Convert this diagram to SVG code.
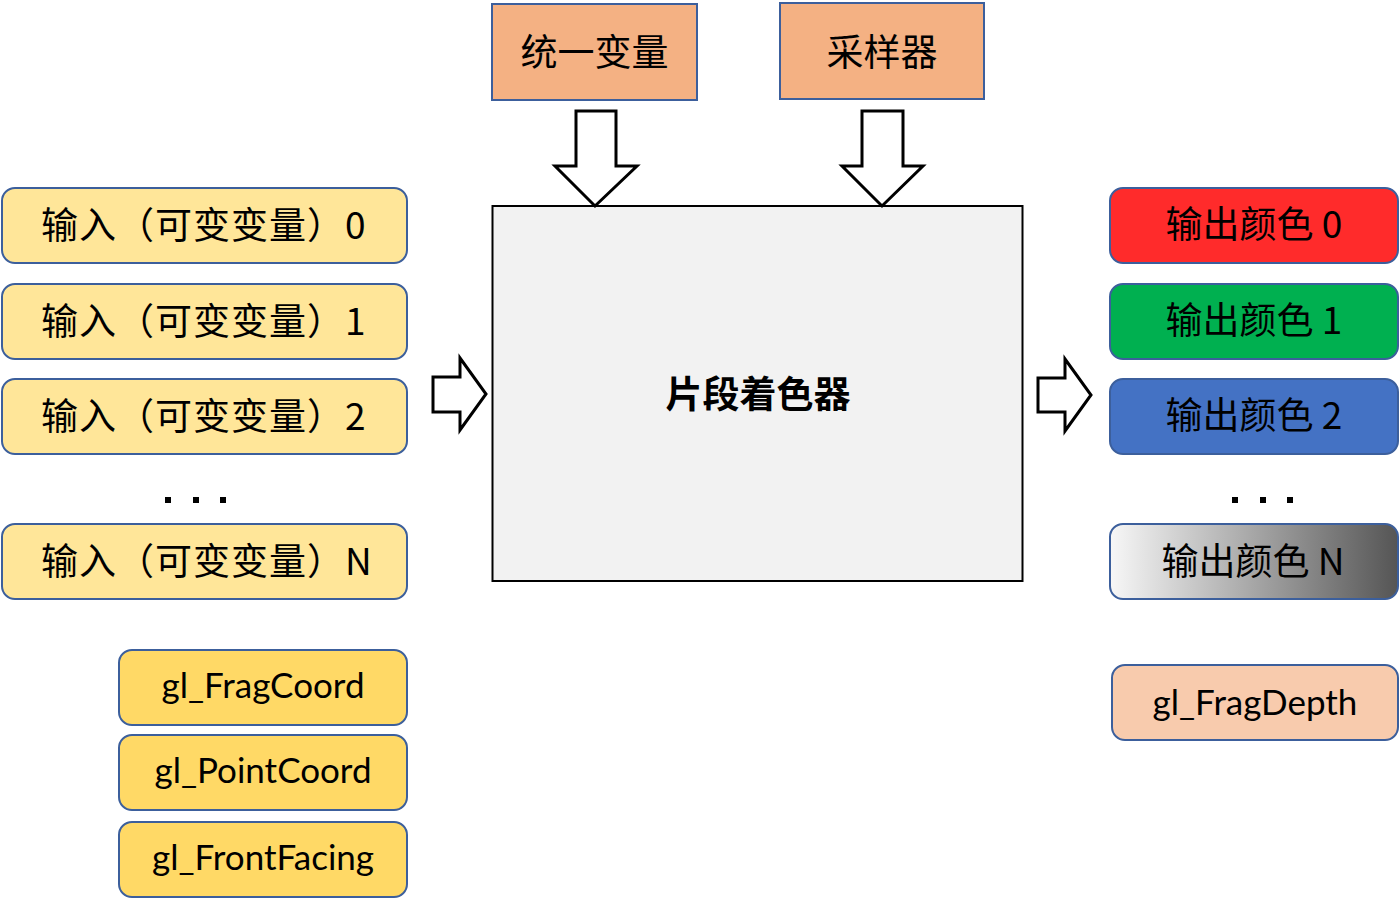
<svg xmlns="http://www.w3.org/2000/svg" width="1400" height="904" viewBox="0 0 1400 904">
<defs>
<linearGradient id="gradN" x1="0" y1="0" x2="1" y2="0">
<stop offset="0" stop-color="#F7F7F7"/>
<stop offset="1" stop-color="#555555"/>
</linearGradient>
<style>
.node{stroke:#3C5F9C;stroke-width:2}
.cjk{font-family:"Noto Sans CJK SC","Noto Sans",sans-serif;font-size:37px;fill:#000}
.lat{font-family:Lato,"Noto Sans",sans-serif;font-size:35px;fill:#000;text-anchor:middle}
.in{fill:#FFE699}
.gl{fill:#FFD966}
.arrow{fill:#fff;stroke:#000;stroke-width:3;stroke-linejoin:miter}
.dot{fill:#000}
</style>
</defs>
<rect width="1400" height="904" fill="#fff"/>

<g id="uniform">
<rect x="492" y="4" width="205" height="96" fill="#F4B183" class="node"/>
<text x="594.5" y="66" class="cjk" text-anchor="middle">统一变量</text>
</g>
<g id="sampler">
<rect x="780" y="3" width="204" height="96" fill="#F4B183" class="node"/>
<text x="882" y="66" class="cjk" text-anchor="middle">采样器</text>
</g>

<g id="shader">
<rect x="492.5" y="206" width="530" height="375" fill="#F2F2F2" stroke="#000" stroke-width="2"/>
<text x="758" y="408" class="cjk" text-anchor="middle" font-weight="bold">片段着色器</text>
</g>

<g id="input0">
<rect x="2" y="188" width="405" height="75" rx="13" class="node in"/>
<text x="41" y="239" class="cjk" letter-spacing="1">输入（可变变量）0</text>
</g>
<g id="input1">
<rect x="2" y="284" width="405" height="75" rx="13" class="node in"/>
<text x="41" y="335" class="cjk" letter-spacing="1">输入（可变变量）1</text>
</g>
<g id="input2">
<rect x="2" y="379" width="405" height="75" rx="13" class="node in"/>
<text x="41" y="430" class="cjk" letter-spacing="1">输入（可变变量）2</text>
</g>
<g id="inputDots">
<rect x="165" y="497" width="6" height="6" class="dot"/>
<rect x="193" y="497" width="6" height="6" class="dot"/>
<rect x="220" y="497" width="6" height="6" class="dot"/>
</g>
<g id="inputN">
<rect x="2" y="524" width="405" height="75" rx="13" class="node in"/>
<text x="41" y="575" class="cjk" letter-spacing="1">输入（可变变量）N</text>
</g>

<g id="fragCoord">
<rect x="119" y="650" width="288" height="75" rx="13" class="node gl"/>
<text x="263" y="698" class="lat">gl_FragCoord</text>
</g>
<g id="pointCoord">
<rect x="119" y="735" width="288" height="75" rx="13" class="node gl"/>
<text x="263" y="783" class="lat">gl_PointCoord</text>
</g>
<g id="frontFacing">
<rect x="119" y="822" width="288" height="75" rx="13" class="node gl"/>
<text x="263" y="870" class="lat">gl_FrontFacing</text>
</g>

<g id="out0">
<rect x="1110" y="188" width="288" height="75" rx="13" fill="#FF2B2B" class="node"/>
<text x="1254" y="238" class="cjk" text-anchor="middle">输出颜色 0</text>
</g>
<g id="out1">
<rect x="1110" y="284" width="288" height="75" rx="13" fill="#00B050" class="node"/>
<text x="1254" y="334" class="cjk" text-anchor="middle">输出颜色 1</text>
</g>
<g id="out2">
<rect x="1110" y="379" width="288" height="75" rx="13" fill="#4472C4" class="node"/>
<text x="1254" y="429" class="cjk" text-anchor="middle">输出颜色 2</text>
</g>
<g id="outDots">
<rect x="1232" y="497" width="6" height="6" class="dot"/>
<rect x="1260" y="497" width="6" height="6" class="dot"/>
<rect x="1287" y="497" width="6" height="6" class="dot"/>
</g>
<g id="outN">
<rect x="1110" y="524" width="288" height="75" rx="13" fill="url(#gradN)" class="node"/>
<text x="1253" y="575" class="cjk" text-anchor="middle">输出颜色 N</text>
</g>
<g id="fragDepth">
<rect x="1112" y="665" width="286" height="75" rx="13" fill="#F8CBAD" class="node"/>
<text x="1255" y="715" class="lat">gl_FragDepth</text>
</g>

<g id="connectors">
<polygon class="arrow" points="576,111 616,111 616,166 637,166 595,206 555,166 576,166"/>
<polygon class="arrow" points="862,111 903,111 903,166 923,166 882,206 842,166 862,166"/>
<polygon class="arrow" points="433,377 460,377 460,358 486,394 460,430 460,412 433,412"/>
<polygon class="arrow" points="1038,378 1065,378 1065,359 1091,395 1065,431 1065,412 1038,412"/>
</g>
</svg>
